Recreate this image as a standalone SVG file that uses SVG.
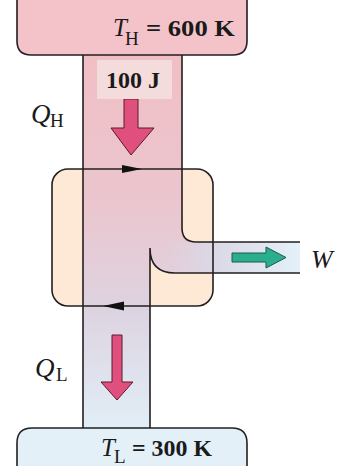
<svg xmlns="http://www.w3.org/2000/svg" width="339" height="466" viewBox="0 0 339 466">
<defs>
<style>
.edge{fill:none;stroke:#231f20;stroke-width:1.6}
.serif{font-family:"Liberation Serif","Times New Roman",serif;fill:#1a1a1a}
.heat{fill:#e0507e;stroke:#5a1a2a;stroke-width:1}
</style>
<linearGradient id="pipeGrad" x1="0" y1="55" x2="0" y2="428" gradientUnits="userSpaceOnUse">
<stop offset="0" stop-color="#f1bec5"/>
<stop offset="0.4" stop-color="#ebc6ce"/>
<stop offset="0.68" stop-color="#ddd3e0"/>
<stop offset="1" stop-color="#e1eef7"/>
</linearGradient>
<linearGradient id="wGrad" x1="165" y1="0" x2="300" y2="0" gradientUnits="userSpaceOnUse">
<stop offset="0" stop-color="#dcd6e6" stop-opacity="0"/>
<stop offset="0.35" stop-color="#d9dbea" stop-opacity="0.8"/>
<stop offset="1" stop-color="#e4f1f9"/>
</linearGradient>
</defs>

<g id="engine">
<rect x="52" y="169" width="161" height="137" rx="16" fill="#fde9d5"/>
</g>

<g id="connectors">
<path d="M83,55 V428 H150 V250 Q150,273 175,273 H300 V242 H196 Q182,242 182,228 V55 Z" fill="url(#pipeGrad)"/>
<path d="M150,250 Q150,273 175,273 H300 V242 H150 Z" fill="url(#wGrad)"/>
<path class="edge" d="M83,55 V428"/>
<path class="edge" d="M182,55 V228 Q182,242 196,242 H300"/>
<path class="edge" d="M300,273 H175 Q150,273 150,248 V428"/>
<rect class="edge" x="52" y="169" width="161" height="137" rx="16"/>
<polygon points="122,165 142,169 122,173" fill="#111"/>
<polygon points="103,306 124,301.5 124,310.5" fill="#111"/>
<polygon class="heat" points="124,99 138,99 138,128 154,128 131,155 111,128 124,128"/>
<polygon class="heat" points="112,335 122,335 122,382 133,382 117,400 101,382 112,382"/>
<polygon points="232,253 266,253 266,247 286,257.5 266,268 266,262 232,262" fill="#2bae8e" stroke="#1c5a4a" stroke-width="1"/>
</g>

<g id="hot-reservoir">
<path d="M17,-5 V41 Q17,55 31,55 H233 Q247,55 247,41 V-5 Z" fill="#f4c3ca" stroke="#231f20" stroke-width="1.6"/>
<text class="serif" x="113" y="36" font-size="25" font-style="italic">T</text>
<text class="serif" x="125" y="45" font-size="19">H</text>
<text class="serif" x="146" y="36" font-size="23" font-weight="bold" textLength="89" lengthAdjust="spacingAndGlyphs">= 600 K</text>
</g>

<g id="heat-label">
<rect x="97" y="60" width="75" height="39" fill="#f5dcdc"/>
<text class="serif" x="106" y="88" font-size="23" font-weight="bold" textLength="54" lengthAdjust="spacingAndGlyphs">100 J</text>
</g>

<g id="qh">
<text class="serif" x="31" y="123" font-size="27" font-style="italic">Q</text>
<text class="serif" x="50" y="127" font-size="19">H</text>
</g>

<g id="ql">
<text class="serif" x="35" y="377" font-size="27" font-style="italic">Q</text>
<text class="serif" x="56" y="381" font-size="19">L</text>
</g>

<g id="work">
<text class="serif" x="311" y="268" font-size="26" font-style="italic">W</text>
</g>

<g id="cold-reservoir">
<path d="M17,475 V443 Q17,428 32,428 H232 Q247,428 247,443 V475 Z" fill="#e3f0f8" stroke="#231f20" stroke-width="1.6"/>
<text class="serif" x="101" y="456" font-size="25" font-style="italic">T</text>
<text class="serif" x="114" y="463" font-size="19">L</text>
<text class="serif" x="132" y="456" font-size="23" font-weight="bold" textLength="80" lengthAdjust="spacingAndGlyphs">= 300 K</text>
</g>
</svg>
